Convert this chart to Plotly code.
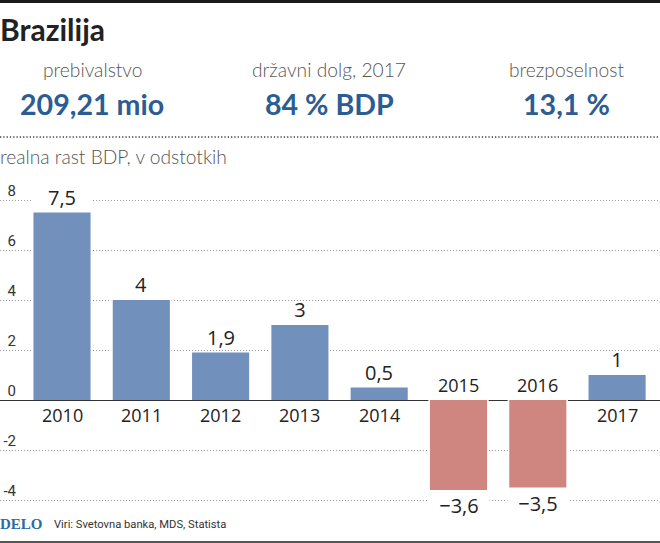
# -*- coding: utf-8 -*-
import plotly.graph_objects as go

years = ["2010", "2011", "2012", "2013", "2014", "2015", "2016", "2017"]
growth = [7.5, 4, 1.9, 3, 0.5, -3.6, -3.5, 1]
growth_labels = ["7,5", "4", "1,9", "3", "0,5", "−3,6", "−3,5", "1"]
y_ticks = [-4, -2, 0, 2, 4, 6, 8]
y_tick_labels = ["-4", "-2", "0", "2", "4", "6", "8"]

stat_names = ["prebivalstvo", "državni dolg, 2017", "brezposelnost"]
stat_values = ["209,21 mio", "84 % BDP", "13,1 %"]

W, H = 660, 543
BLUE = "#7190bc"
RED = "#d08680"
STAT_BLUE = "#2b5c93"
DARK = "#222222"
GREY = "#555555"


def px_x(v):
    return v / W


def px_y(v):
    return 1 - v / H


def page_text(x, y, text, font, xanchor="center"):
    fig.add_annotation(x=px_x(x), y=px_y(y), xref="paper", yref="paper", xanchor=xanchor,
                       yanchor="middle", xshift=-2 if xanchor == "left" else 0,
                       text=text, showarrow=False, font=font)


fig = go.Figure()

# white bar behind the coloured one, cuts the dotted grid next to the bars
fig.add_bar(x=years, y=growth, width=0.76, marker=dict(color="white", line=dict(width=0)),
            hoverinfo="skip")
fig.add_bar(x=years, y=growth, width=0.72,
            marker=dict(color=[BLUE if v > 0 else RED for v in growth],
                        line=dict(width=0)))

# value labels and year labels, x is the category index (year strings would read as numbers)
for i, (year, v, label) in enumerate(zip(years, growth, growth_labels)):
    fig.add_annotation(x=i, y=v, xref="x", yref="y", text=label, showarrow=False,
                       xanchor="center", yanchor="middle", yshift=16 if v > 0 else -15,
                       width=58, height=24, align="center",
                       bgcolor="white" if abs(v) >= 3.5 and v != 4 else None,
                       font=dict(family="Open Sans", size=20, color=DARK))
    fig.add_annotation(x=i, y=0, xref="x", yref="y", text=year, showarrow=False,
                       xanchor="center", yanchor="middle", yshift=-15 if v > 0 else 15,
                       font=dict(family="Open Sans", size=18, color=DARK))

# header
page_text(0, 29, "<b>Brazilija</b>", dict(family="Lato", size=30, color=DARK), "left")
for cx, name, value in zip([92.5, 329, 566], stat_names, stat_values):
    page_text(cx, 69.5, name, dict(family="Lato", size=19.2, color=GREY, weight=300))
    page_text(cx, 104, "<b>" + value + "</b>", dict(family="Lato", size=28.6, color=STAT_BLUE))
page_text(0, 156.5, "realna rast BDP, v odstotkih",
          dict(family="Lato", size=19.2, color=GREY, weight=300), "left")

# footer
page_text(0, 524, "<b>DELO</b>", dict(family="Liberation Serif", size=15, color="#2b6ca8"), "left")
page_text(54, 524, "Viri: Svetovna banka, MDS, Statista",
          dict(family="Roboto", size=11.2, color="#333333"), "left")

# rules
fig.add_shape(type="rect", xref="paper", yref="paper", x0=0, x1=1, y0=px_y(3), y1=1,
              fillcolor="#1a1a1a", line_width=0)
fig.add_shape(type="rect", xref="paper", yref="paper", x0=0, x1=1, y0=0, y1=px_y(541),
              fillcolor="#555555", line_width=0)
fig.add_shape(type="line", xref="paper", yref="paper", x0=0, x1=1, y0=px_y(137), y1=px_y(137),
              line=dict(color="#444444", width=1.3, dash="1.3px,2px"))

fig.update_layout(
    width=W, height=H,
    margin=dict(l=0, r=0, t=0, b=0),
    paper_bgcolor="white", plot_bgcolor="white",
    barmode="overlay", showlegend=False,
    xaxis=dict(type="category", range=[-0.782, 7.541], showticklabels=False,
               showgrid=False, zeroline=False, ticks=""),
    yaxis=dict(range=[-5.72, 16], tickvals=y_ticks, ticktext=y_tick_labels,
               anchor="free", position=16 / W, ticks="", ticklabelshift=-9, ticklabelstandoff=0,
               showgrid=True, griddash="1px,2px", gridcolor="#999999", gridwidth=1,
               zeroline=True, zerolinecolor="#333333", zerolinewidth=1.3, layer="above traces",
               tickfont=dict(family="Roboto", size=15, color="#333333")),
)

fig.write_html("out.html", config=dict(displayModeBar=False),
               post_script="document.body.style.margin='0';")
